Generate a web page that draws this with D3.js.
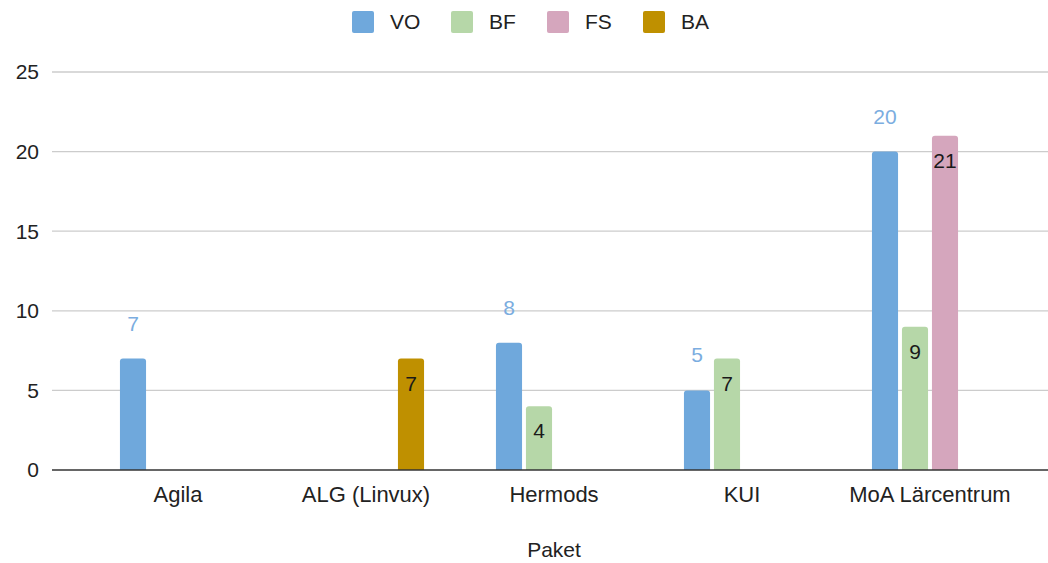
<!DOCTYPE html>
<html>
<head>
<meta charset="utf-8">
<script src="https://cdn.jsdelivr.net/npm/d3@7"></script>
<style>
  body { margin: 0; background: #fff; }
  svg { display: block; }
  text { font-family: "Liberation Sans", Arial, sans-serif; }
</style>
</head>
<body>
<svg width="1048" height="563"></svg>
<script>
// DATA
const categories = ['Agila', 'ALG (Linvux)', 'Hermods', 'KUI', 'MoA Lärcentrum'];
const series = ['VO', 'BF', 'FS', 'BA'];
const VO = [7, 0, 8, 5, 20];
const BF = [0, 0, 4, 7, 9];
const FS = [0, 0, 0, 0, 21];
const BA = [0, 7, 0, 0, 0];
const yTicks = [0, 5, 10, 15, 20, 25];
const colors = ['#6fa8dc', '#b6d7a8', '#d5a6bd', '#bf9000'];

const values = { VO, BF, FS, BA };

const svg = d3.select('svg');
const width = +svg.attr('width');

const x = d3.scaleBand()
  .domain(categories)
  .range([84, 1024]);

const xInner = d3.scaleBand()
  .domain(series)
  .range([-60, 60])
  .paddingInner(0.13)
  .paddingOuter(0.065);

const y = d3.scaleLinear()
  .domain([0, 25])
  .range([470, 72]);

const color = d3.scaleOrdinal().domain(series).range(colors);

// GRID
svg.append('g')
  .selectAll('line')
  .data(yTicks.filter(d => d > 0))
  .join('line')
    .attr('x1', 52)
    .attr('x2', width)
    .attr('y1', d => y(d))
    .attr('y2', d => y(d))
    .attr('stroke', '#cccccc')
    .attr('stroke-width', 1.3);

// Y AXIS LABELS
svg.append('g')
  .selectAll('text')
  .data(yTicks)
  .join('text')
    .attr('x', 39)
    .attr('y', d => y(d))
    .attr('dy', '0.35em')
    .attr('text-anchor', 'end')
    .attr('font-size', 21)
    .attr('fill', '#222')
    .text(d => d);

// BARS
const rows = [];
categories.forEach((c, i) => {
  series.forEach(s => {
    if (values[s][i] > 0) rows.push({ cat: c, series: s, value: values[s][i] });
  });
});

function topRounded(x0, y0, w, h, r) {
  return `M${x0},${y0 + h}
    L${x0},${y0 + r}
    Q${x0},${y0} ${x0 + r},${y0}
    L${x0 + w - r},${y0}
    Q${x0 + w},${y0} ${x0 + w},${y0 + r}
    L${x0 + w},${y0 + h} Z`;
}

const bars = svg.append('g');
bars.selectAll('path')
  .data(rows)
  .join('path')
    .attr('d', d => {
      const bx = x(d.cat) + x.bandwidth() / 2 + xInner(d.series);
      const by = y(d.value);
      return topRounded(bx, by, xInner.bandwidth(), y(0) - by, 3);
    })
    .attr('fill', d => color(d.series));

// DATA LABELS
bars.selectAll('text')
  .data(rows)
  .join('text')
    .attr('x', d => x(d.cat) + x.bandwidth() / 2 + xInner(d.series) + xInner.bandwidth() / 2)
    .attr('y', d => d.series === 'VO' ? y(d.value) - 28 : y(d.value) + 32)
    .attr('text-anchor', 'middle')
    .attr('font-family', 'Roboto, sans-serif')
    .attr('font-size', 21)
    .attr('fill', d => d.series === 'VO' ? '#7bade0' : '#1a1a1a')
    .text(d => d.value);

// BASELINE
svg.append('line')
  .attr('x1', 52)
  .attr('x2', width)
  .attr('y1', y(0))
  .attr('y2', y(0))
  .attr('stroke', '#333')
  .attr('stroke-width', 1.3);

// X LABELS
svg.append('g')
  .selectAll('text')
  .data(categories)
  .join('text')
    .attr('x', d => x(d) + x.bandwidth() / 2)
    .attr('y', 502)
    .attr('text-anchor', 'middle')
    .attr('font-size', 22)
    .attr('fill', '#222')
    .text(d => d);

svg.append('text')
  .attr('x', 554)
  .attr('y', 557)
  .attr('text-anchor', 'middle')
  .attr('font-size', 21)
  .attr('fill', '#222')
  .text('Paket');

// LEGEND
const legendX = [352, 451, 547, 643];
const legend = svg.append('g')
  .selectAll('g')
  .data(series)
  .join('g')
    .attr('transform', (d, i) => `translate(${legendX[i]}, 11)`);

legend.append('rect')
  .attr('width', 22)
  .attr('height', 22)
  .attr('rx', 2)
  .attr('fill', d => color(d));

legend.append('text')
  .attr('x', 38)
  .attr('y', 11)
  .attr('dy', '0.35em')
  .attr('font-size', 21)
  .attr('fill', '#222')
  .text(d => d);
</script>
</body>
</html>
